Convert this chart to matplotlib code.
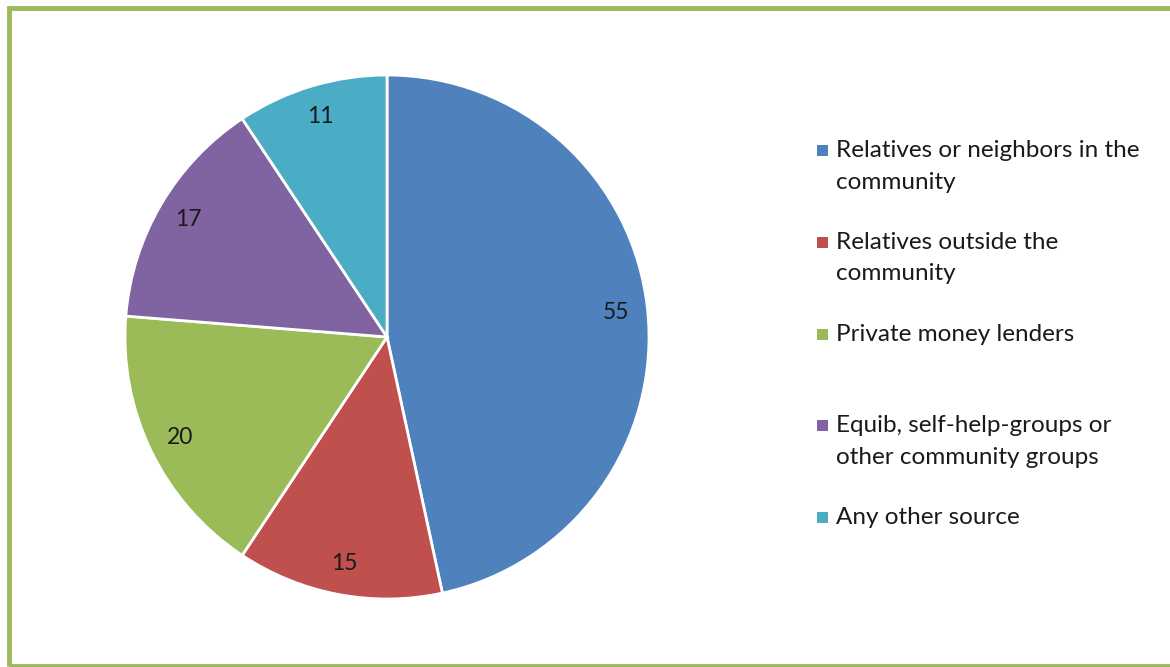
import matplotlib.pyplot as plt
from matplotlib.patches import Rectangle

# data
labels = ["Relatives or neighbors in the\ncommunity",
          "Relatives outside the\ncommunity",
          "Private money lenders",
          "Equib, self-help-groups or\nother community groups",
          "Any other source"]
values = [55, 15, 20, 17, 11]
colors = ["#4F81BD", "#C0504D", "#9BBB59", "#8064A2", "#4BACC6"]

plt.rcParams["font.family"] = ["Lato", "DejaVu Sans"]

W, H = 1170, 667
fig = plt.figure(figsize=(W / 100, H / 100), dpi=100)

# pie axes: centre (387, 337), radius 262 px
cx, cy, r = 387, 337, 262
ax = fig.add_axes([(cx - r) / W, (H - cy - r) / H, 2 * r / W, 2 * r / H])
wedges, texts = ax.pie(values, colors=colors, startangle=90, counterclock=False,
                       labels=[str(v) for v in values], labeldistance=0.88,
                       wedgeprops=dict(edgecolor="white", linewidth=2),
                       textprops=dict(fontsize=16.5, color="#1a1a1a"))
for t in texts:
    t.set_horizontalalignment("center")
ax.set_xlim(-1.0, 1.0)
ax.set_ylim(-1.0, 1.0)
ax.set_aspect("equal")
ax.axis("off")

# legend drawn by hand so multi-line entries line up like the original
for i, (lab, col) in enumerate(zip(labels, colors)):
    ytop = 150 + i * 91.8
    fig.patches.append(Rectangle((817 / W, 1 - (ytop + 6) / H), 11 / W, 11 / H,
                                 transform=fig.transFigure, facecolor=col,
                                 edgecolor="none"))
    fig.text(836 / W, 1 - (ytop - 10) / H, lab, fontsize=17.5, color="#1a1a1a",
             va="top", ha="left", linespacing=1.62)

# green frame
fig.patches.append(Rectangle((8.5 / W, 1.5 / H), (W + 10) / W, (H - 9.5) / H,
                             transform=fig.transFigure, facecolor="none",
                             edgecolor="#9BBB59", linewidth=3.5))

fig.savefig("out.png", dpi=100)
